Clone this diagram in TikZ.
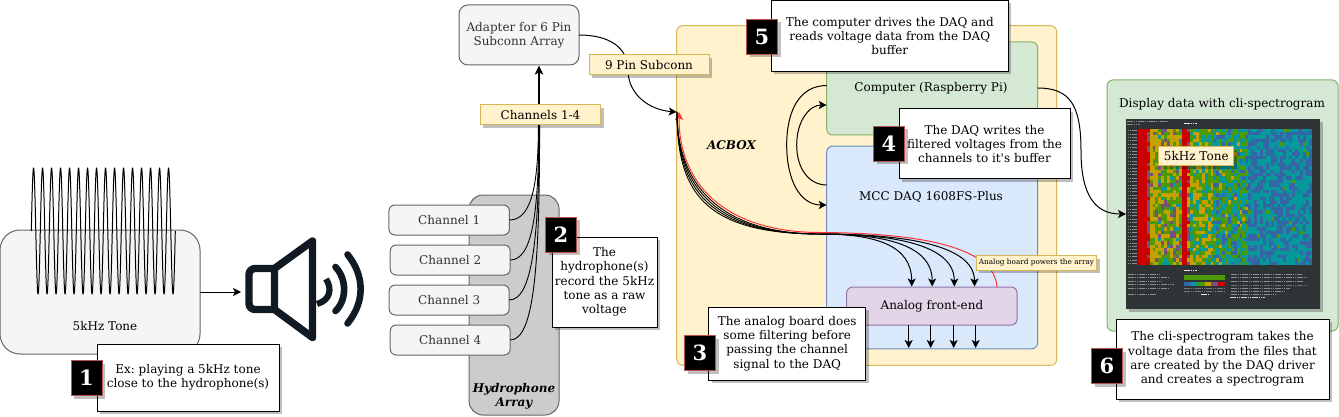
\documentclass[tikz,border=0pt]{standalone}
\usepackage{fontspec}
\setmainfont{DejaVu Serif}[Ligatures=TeXOff]
\usetikzlibrary{arrows.meta,shadows,calc}
\definecolor{boxgrey}{HTML}{F5F5F5}
\definecolor{edgegrey}{HTML}{666666}
\definecolor{textgrey}{HTML}{333333}
\definecolor{yelfill}{HTML}{FFF2CC}
\definecolor{yeledge}{HTML}{D6B656}
\definecolor{grnfill}{HTML}{D5E8D4}
\definecolor{grnedge}{HTML}{82B366}
\definecolor{blufill}{HTML}{DAE8FC}
\definecolor{bluedge}{HTML}{6C8EBF}
\definecolor{purfill}{HTML}{E1D5E7}
\definecolor{puredge}{HTML}{9673A6}
\definecolor{numedge}{HTML}{B85450}
\definecolor{speaker}{HTML}{111A22}
\definecolor{redline}{HTML}{FF3333}
\definecolor{termbg}{HTML}{2E3436}
\definecolor{hmA}{HTML}{3465A4}
\definecolor{hmB}{HTML}{06989A}
\definecolor{hmC}{HTML}{4E9A06}
\definecolor{hmD}{HTML}{C4A000}
\definecolor{hmE}{HTML}{75507B}
\definecolor{hmF}{HTML}{CC0000}
\tikzset{
  txt/.style={font=\fontsize{12}{14.3}\selectfont\frenchspacing,align=center,inner sep=0pt,outer sep=0pt,line width=1pt},
  shad/.style={copy shadow={shadow xshift=3pt,shadow yshift=-3pt,fill=black,draw=none,opacity=.25}},
  greybox/.style={txt,draw=edgegrey,fill=boxgrey,text=textgrey,rounded corners=6pt},
  yellabel/.style={txt,draw=yeledge,fill=yelfill,shad},
  panel/.style={txt,rounded corners=6pt},
  notebox/.style={txt,draw=black,fill=white,shad},
  numbox/.style={txt,draw=numedge,fill=black,text=white,shad,minimum width=31pt,minimum height=35pt,font=\fontsize{21}{24}\selectfont\bfseries},
  wire/.style={line width=1pt,-{Stealth[length=8pt,width=8pt,inset=2pt]}},
  plain/.style={line width=.9pt},
  spk/.style={draw=speaker,line width=7.4pt,line join=round,line cap=round},
  tiny/.style={draw=white,line width=.8pt,opacity=.45,dash pattern=on 1.6pt off .6pt}
}
\begin{document}
\begin{tikzpicture}[x=1pt,y=-1pt]
\useasboundingbox[fill=white] (0,0) rectangle (1339,417);

% tone
\node[greybox,rounded corners=20pt,minimum width=200pt,minimum height=124pt,text=black] (tone) at (100,292) {};
\node[txt] (tonetxt) at (105,326) {5kHz Tone};
\draw[line width=1pt,line join=round] plot[domain=0:144,samples=1153] (31.3+\x,{231-63*sin(40*\x)});

% speaker
\begin{scope}
\draw[spk,rounded corners=6pt,line cap=butt] (274,268.5) -- (249,268.5) -- (249,309.5) -- (274,309.5);
\draw[spk] (274.5,268.5) -- (312.5,241) -- (312.5,337.5) -- (274.5,309.5) -- cycle;
\draw[draw=speaker,line width=6.2pt,line cap=butt] (326,279) .. controls (332,288) and (331,300) .. (317,304);
\draw[draw=speaker,line width=6.6pt,line cap=round] (335.5,267) .. controls (347,279) and (347,300) .. (335.5,311);
\draw[draw=speaker,line width=6.6pt,line cap=round] (347.5,254.5) .. controls (365,276) and (365,302) .. (347.5,323.5);
\end{scope}
\coordinate (spkin) at (241,292);
\draw[wire] (tone.east |- spkin) -- (spkin);

% hydrophone array
\node[txt,draw=edgegrey,fill=black!20,rounded corners=14pt,minimum width=90pt,minimum height=220pt] (hydro) at (514,305) {};
\node[txt,font=\fontsize{12}{14.3}\selectfont\bfseries\itshape] (hydrotxt) at (514,396) {Hydrophone\\Array};
\node[greybox,minimum width=120.5pt,minimum height=30pt] (ch1) at (449.2,220) {Channel 1};
\node[greybox,minimum width=120pt,minimum height=30pt] (ch2) at (450.2,260) {Channel 2};
\node[greybox,minimum width=120pt,minimum height=30pt] (ch3) at (449.2,300) {Channel 3};
\node[greybox,minimum width=120pt,minimum height=30pt] (ch4) at (450.2,340) {Channel 4};
\node[greybox,rounded corners=9pt,minimum width=120pt,minimum height=60pt] (adapter) at (519,35) {Adapter for 6 Pin\\Subconn Array};
\coordinate (adin) at (539,65.5);
\draw[plain] (ch1.east) .. controls (530,220) and (538.4,190) .. (538.4,125);
\draw[plain] (ch2.east) .. controls (532,260) and (538.8,215) .. (538.8,125);
\draw[plain] (ch3.east) .. controls (532,300) and (539.2,240) .. (539.2,125);
\draw[plain] (ch4.east) .. controls (535,340) and (539.6,260) .. (539.6,125);
\draw[line width=2pt,-{Stealth[length=9pt,width=8.5pt,inset=2pt]}] (539,125) -- (adin);

% ACBOX
\node[panel,draw=yeledge,fill=yelfill,minimum width=380pt,minimum height=339.5pt] (acbox) at (866.7,195.5) {};
\node[txt,font=\fontsize{12}{14.3}\selectfont\bfseries\itshape] (acboxtxt) at (731.5,145.5) {ACBOX};
\node[panel,draw=grnedge,fill=grnfill,minimum width=211pt,minimum height=93pt] (comp) at (932.2,88.5) {};
\node[txt] (comptxt) at (931,88) {Computer (Raspberry Pi)};
\node[panel,draw=bluedge,fill=blufill,minimum width=211pt,minimum height=202.7pt] (daq) at (932.2,247.4) {};
\node[txt] (daqtxt) at (931,197) {MCC DAQ 1608FS-Plus};
\node[panel,draw=puredge,fill=purfill,minimum width=170.5pt,minimum height=38pt] (afe) at (931.9,306) {Analog front-end};

% computer / daq loops
\coordinate (cL1) at (826.7,85.5);
\coordinate (dL1) at (826.7,205);
\coordinate (cL2) at (826.7,105);
\coordinate (dL2) at (826.7,185);
\draw[wire] (cL1) .. controls (800,85.5) and (786.7,110) .. (786.7,145) .. controls (786.7,180) and (800,205) .. (dL1);
\draw[wire] (dL2) .. controls (810,185) and (796.7,170) .. (796.7,145) .. controls (796.7,120) and (810,105) .. (cL2);

% analog wires
\coordinate (acin) at (677,112);
\coordinate (redin) at (679,112);
\coordinate (mid) at (820,234);
\coordinate (a1) at (911.7,286.5);
\coordinate (a2) at (932.2,286.5);
\coordinate (a3) at (954.3,286.5);
\coordinate (a4) at (974.5,286.5);
\coordinate (r1) at (997,287);
\draw[line width=1pt,draw=redline,-{Stealth[length=8pt,width=8pt,inset=2pt]}] (r1) .. controls (995,250) and (930,233) .. (820,232.5) .. controls (732,232.5) and (679,190) .. (redin);
\draw[plain] (acin) .. controls (677,190) and (726,234) .. (mid);
\draw[plain] (acin) .. controls (677,190) and (718,234) .. (mid);
\draw[plain] (acin) .. controls (677,190) and (710,234) .. (mid);
\draw[plain] (acin) .. controls (677,190) and (702,234) .. (mid);
\draw[wire] (mid) .. controls (875,234) and (a1 |- 0,245) .. (a1);
\draw[wire] (mid) .. controls (885,234) and (a2 |- 0,245) .. (a2);
\draw[wire] (mid) .. controls (895,234) and (a3 |- 0,245) .. (a3);
\draw[wire] (mid) .. controls (905,234) and (a4 |- 0,245) .. (a4);
\coordinate (b1) at (908.7,348);
\coordinate (b2) at (930.7,348);
\coordinate (b3) at (953.7,348);
\coordinate (b4) at (975.7,348);
\draw[wire] (afe.south -| b1) -- (b1);
\draw[wire] (afe.south -| b2) -- (b2);
\draw[wire] (afe.south -| b3) -- (b3);
\draw[wire] (afe.south -| b4) -- (b4);

% subconn wire
\draw[wire] (adapter.east |- 0,35) .. controls (610,35) and (628,48) .. (628,70) .. controls (628,95) and (650,110) .. (acbox.west |- acin);

% labels
\node[yellabel,minimum width=120pt,minimum height=20pt] (pin9) at (649,65) {9 Pin Subconn};
\node[yellabel,minimum width=120.5pt,minimum height=20pt] (chans) at (540.5,115) {Channels 1-4};
\node[yellabel,minimum width=120.5pt,minimum height=14.5pt,font=\fontsize{7.3}{9}\selectfont\frenchspacing] (power) at (1036.5,263) {\raisebox{-2pt}{Analog board powers the array}};

% display
\node[panel,draw=grnedge,fill=grnfill,minimum width=231pt,minimum height=251pt] (disp) at (1222.5,205.5) {};
\node[txt] (disptxt) at (1222,104) {Display data with cli-spectrogram};
\node[txt,fill=termbg,minimum width=194pt,minimum height=190pt,shad] (term) at (1223,214) {};
\pgfmathsetseed{4217}
\foreach \r in {0,...,39}{
 \foreach \c in {0,...,59}{
  \pgfmathsetmacro\nz{rnd}
  \pgfmathsetmacro\bas{\c<3?5:(\c<4?4.3:(\c<7?2.9:(\c<15?2.6:(\c<17?5:(\c<18?3.8:(\c<26?2.1:(\c<38?1.3:0.55)))))))}
  \pgfmathsetmacro\spr{\c<3?0.4:(\c<7?1.4:(\c<15?2.8:(\c<17?0.6:(\c<38?2.6:2.0))))}
  \pgfmathtruncatemacro\lev{min(5,max(0,round(\bas+\spr*(\nz-0.5))))}
  \ifcase\lev\relax\def\hc{hmA}\or\def\hc{hmB}\or\def\hc{hmC}\or\def\hc{hmD}\or\def\hc{hmE}\else\def\hc{hmF}\fi
  \fill[\hc] ({1138+2.9*\c},{128.6+3.41*\r}) rectangle ++(3.0,3.5);
 }
 \draw[tiny] (1127.5,{130.5+3.41*\r}) -- (1136.5,{130.5+3.41*\r});
}
% terminal fine print
\draw[tiny] (1127,121) -- (1168,121);
\draw[tiny] (1127,124.5) -- (1140,124.5);
\draw[tiny,opacity=.9] (1184,123.5) -- (1197,123.5);
\draw[tiny,opacity=.9] (1184,270) -- (1197,270);
\foreach \yy/\xe in {274/1160,277.5/1168,281/1162,284.5/1174,288/1168,294.5/1156}{\draw[tiny] (1128,\yy) -- (\xe,\yy);}
\fill[hmC] (1184,275) rectangle (1225,279.5);
\foreach \k/\hc in {0/hmA,1/hmB,2/hmC,3/hmD,4/hmE,5/hmF}{\fill[\hc] ({1184+6.83*\k},282) rectangle ++(6.9,4);}
\foreach \yy in {288.5,291}{\draw[tiny,opacity=.35] (1184,\yy) -- (1225,\yy);}
\draw[tiny,opacity=.9] (1201,294.5) -- (1208,294.5);
\foreach \yy/\xe in {274/1302,277.5/1308,281/1303,288/1290,291/1284,294/1276}{\draw[tiny] (1231,\yy) -- (\xe,\yy);}
\draw[tiny,opacity=.3] (1231,285) -- (1308,285);
\draw[tiny,opacity=.8] (1230,297.5) -- (1265,297.5);
\node[yellabel,minimum width=75pt,minimum height=19pt] (tonelabel) at (1196.3,156.5) {5kHz Tone};
\coordinate (mid2) at (1081,151);
\draw[wire] (comp.east |- 0,88) .. controls (1070,88) and (1081,105) .. (mid2) .. controls (1081,195) and (1095,214) .. (term.west |- 0,214);

% notes
\node[notebox,minimum width=182pt,minimum height=67pt] (n1) at (188,377.5) {Ex: playing a 5kHz tone\\close to the hydrophone(s)};
\node[numbox] (k1) at (86.5,378) {1};
\node[notebox,minimum width=105pt,minimum height=90pt] (n2) at (604.5,282) {The\\hydrophone(s)\\record the 5kHz\\tone as a raw\\voltage};
\node[numbox] (k2) at (561,234.5) {2};
\node[notebox,minimum width=157pt,minimum height=73pt] (n3) at (787.2,343.5) {The analog board does\\some filtering before\\passing the channel\\signal to the DAQ};
\node[numbox] (k3) at (700,353) {3};
\node[notebox,minimum width=171pt,minimum height=70pt] (n4) at (984.5,144) {The DAQ writes the\\filtered voltages from the\\channels to it's buffer};
\node[numbox] (k4) at (889,144) {4};
\node[notebox,minimum width=237pt,minimum height=71pt] (n5) at (889.8,36) {The computer drives the DAQ and\\reads voltage data from the DAQ\\buffer};
\node[numbox] (k5) at (762,37) {5};
\node[notebox,minimum width=213pt,minimum height=80pt] (n6) at (1222.5,359) {The cli-spectrogram takes the\\voltage data from the files that\\are created by the DAQ driver\\and creates a spectrogram};
\node[numbox] (k6) at (1107,366) {6};
\end{tikzpicture}
\end{document}
